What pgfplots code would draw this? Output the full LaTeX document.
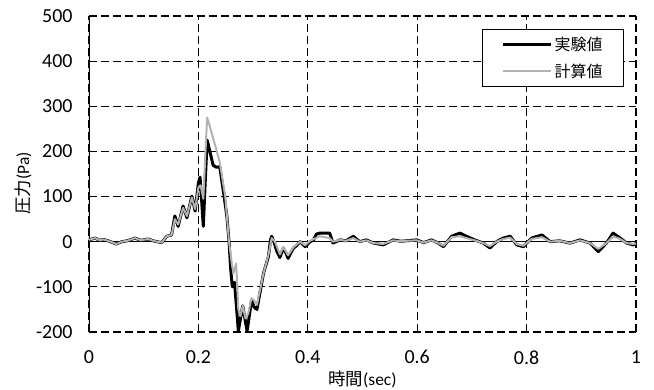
\documentclass[border=0pt]{standalone}
\usepackage{fontspec}
\setmainfont{Carlito}
\newfontfamily\jp{Noto Sans CJK JP}
\usepackage{pgfplots}
\pgfplotsset{compat=1.18}

\begin{document}
\begin{tikzpicture}
\begin{axis}[
  scale only axis,
  width=547bp, height=316bp,
  xmin=0, xmax=1, ymin=-200, ymax=500,
  xtick={0,0.2,0.4,0.6,0.8,1},
  ytick={-200,-100,0,100,200,300,400,500},
  xticklabels={0,0.2,0.4,0.6,0.8,1},
  /pgf/number format/assume math mode=true,
  tick label style={font=\fontsize{20}{20}\selectfont},
  xticklabel style={yshift=-15bp},
  yticklabel style={xshift=-13bp},
  major tick length=0pt,
  axis line style={draw=none},
  grid=major,
  major grid style={black, line width=1.1bp, dash pattern=on 8bp off 4bp},
  xlabel={{\jp 時間}(sec)},
  ylabel={{\jp 圧力}(Pa)},
  every axis x label/.style={at={(axis description cs:0.5,0)}, anchor=north, yshift=-39bp, inner sep=0pt, font=\fontsize{17.5}{17.5}\selectfont},
  every axis y label/.style={at={(axis description cs:0,0.47)}, xshift=-66bp, rotate=90, anchor=center, inner sep=0pt, font=\fontsize{17.5}{17.5}\selectfont},
  legend style={at={(0.978,0.96)}, anchor=north east, draw=black, line width=1bp, fill=white,
    inner xsep=19bp, inner ysep=6bp, row sep=8bp,
    font=\jp\fontsize{16}{16}\selectfont},
  legend cell align=left,
  legend image code/.code={\draw[#1] (0bp,0bp) -- (48bp,0bp);},
]
\draw[black, line width=1.5bp] (rel axis cs:0,0) -- (rel axis cs:0,1);
\draw[black, line width=0.8bp] (axis cs:0,0) -- (axis cs:1,0);

\addplot[black, line width=3bp, line join=round] coordinates {
(0,4) (0.011,8) (0.02,3) (0.026,5) (0.035,2) (0.05,-5) (0.06,0) (0.07,2) (0.084,8) (0.095,3) (0.108,6) (0.12,1) (0.133,-2) (0.142,12) (0.151,15)
(0.157,57) (0.163,34) (0.172,79) (0.179,53) (0.188,101) (0.194,68) (0.2,130) (0.203,143) (0.206,90) (0.209,34) (0.212,120) (0.216,225) (0.221,200) (0.227,169) (0.233,165) (0.239,166) (0.246,109) (0.252,57) (0.256,0)
(0.259,-60) (0.262,-100) (0.266,-90) (0.27,-150) (0.273,-198) (0.277,-170) (0.281,-142) (0.285,-170) (0.289,-198) (0.293,-165) (0.297,-130) (0.302,-145) (0.307,-150) (0.313,-110) (0.319,-70) (0.325,-45) (0.328,-33) (0.332,5) (0.334,12)
(0.338,0) (0.343,-20) (0.349,-35) (0.355,-14) (0.36,-25) (0.364,-37) (0.37,-22) (0.374,-14) (0.38,-8) (0.386,0) (0.395,-11) (0.404,0) (0.41,3) (0.416,17) (0.422,19) (0.44,19) (0.446,-3) (0.459,4) (0.47,2) (0.483,12) (0.495,0) (0.507,4) (0.52,-3) (0.538,-7) (0.556,4) (0.57,1) (0.58,2) (0.599,4) (0.612,-2) (0.626,4) (0.637,-2) (0.648,-11) (0.663,12) (0.678,19) (0.69,12) (0.705,4) (0.721,-3) (0.733,-14) (0.745,0) (0.757,8) (0.77,12) (0.782,-7) (0.794,-11) (0.809,8) (0.828,15) (0.843,0) (0.86,2) (0.879,-3) (0.898,4) (0.916,-3) (0.931,-22) (0.946,-3) (0.958,19) (0.971,8) (0.983,-3) (0.995,-7) (1,-4)
};
\addlegendentry{実験値\hspace{20bp}}

\addplot[gray!60, line width=2bp, line join=round] coordinates {
(0,4) (0.011,8) (0.02,3) (0.026,5) (0.035,2) (0.05,-5) (0.06,0) (0.07,2) (0.084,8) (0.095,3) (0.108,6) (0.12,1) (0.133,-2) (0.142,12) (0.151,15)
(0.157,50) (0.163,38) (0.172,75) (0.179,57) (0.188,98) (0.194,72) (0.2,120) (0.204,125) (0.209,95) (0.213,200) (0.216,275) (0.221,255) (0.227,229) (0.233,203) (0.239,176) (0.249,101) (0.256,0)
(0.261,-48) (0.264,-70) (0.269,-48) (0.273,-150) (0.277,-165) (0.281,-142) (0.286,-170) (0.291,-160) (0.297,-125) (0.302,-130) (0.307,-140) (0.313,-105) (0.319,-70) (0.328,-30) (0.334,8)
(0.34,0) (0.349,-28) (0.355,-12) (0.364,-30) (0.374,-12) (0.386,0) (0.395,-8) (0.404,2) (0.422,12) (0.44,8) (0.446,0) (0.459,4) (0.47,2) (0.483,8) (0.495,0) (0.507,3) (0.52,-3) (0.538,-5) (0.556,3) (0.57,1) (0.58,2) (0.599,3) (0.612,-2) (0.626,3) (0.637,-2) (0.648,-9) (0.663,10) (0.678,12) (0.69,8) (0.705,3) (0.721,-3) (0.733,-10) (0.745,0) (0.757,6) (0.77,9) (0.782,-5) (0.794,-9) (0.809,6) (0.828,10) (0.843,0) (0.86,2) (0.879,-3) (0.898,3) (0.916,-3) (0.931,-16) (0.946,-3) (0.958,12) (0.971,6) (0.983,-3) (0.995,-5) (1,-4)
};
\addlegendentry{計算値\hspace{20bp}}
\end{axis}
\pgfresetboundingbox
\path[use as bounding box] ([shift={(-89bp,-58bp)}]current axis.south west) rectangle ([shift={(18bp,16bp)}]current axis.north east);
\end{tikzpicture}
\end{document}
